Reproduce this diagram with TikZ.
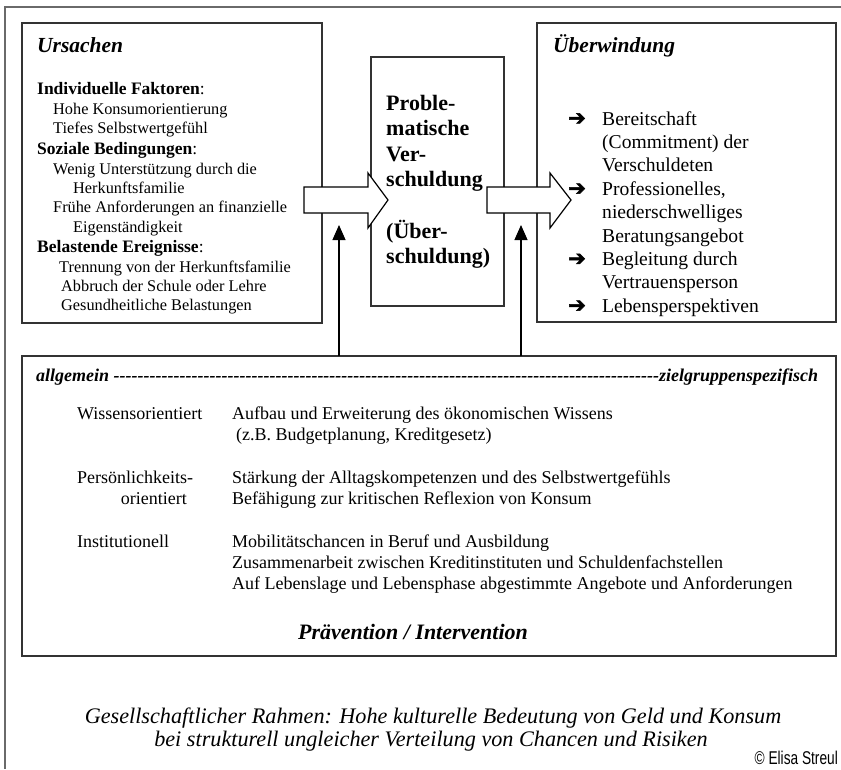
\documentclass[tikz,border=0pt]{standalone}
\usepackage{fontspec}
\setmainfont{Liberation Serif}
\newfontfamily\symfont[FakeBold=2.5]{DejaVu Sans}
\newfontfamily\copyfont{Liberation Sans}
\usetikzlibrary{arrows.meta}
\definecolor{boxgray}{HTML}{333333}
\definecolor{framegray}{HTML}{6A6A6A}
\tikzset{
  box/.style={draw=boxgray, line width=1.3pt, anchor=north west, inner sep=0pt, outer sep=0pt},
  bigarrow/.style={draw=black, fill=white, line width=1.2pt, line join=miter},
  thinarrow/.style={draw=black, line width=1.2pt, -{Triangle[width=13pt,length=15pt]}},
  ut/.style={anchor=base west, inner sep=0pt, font=\fontsize{16.3}{19}\selectfont},
  uh/.style={anchor=base west, inner sep=0pt, font=\fontsize{17.5}{19}\selectfont},
  mt/.style={anchor=base west, inner sep=0pt, font=\fontsize{22}{25}\selectfont\bfseries},
  ot/.style={anchor=base west, inner sep=0pt, font=\fontsize{19.6}{23}\selectfont},
  bul/.style={anchor=base west, inner sep=0pt, font=\fontsize{21}{23}\symfont},
  bt/.style={anchor=base west, inner sep=0pt, font=\fontsize{18}{21}\selectfont},
  ttl/.style={anchor=base west, inner sep=0pt, font=\fontsize{21.5}{24}\selectfont\bfseries\itshape},
  foot/.style={anchor=base, inner sep=0pt, font=\fontsize{22.2}{25}\selectfont\itshape},
}
\begin{document}
\begin{tikzpicture}[x=1pt,y=-1pt]
\useasboundingbox (0,0) rectangle (841,769);
% outer frame
\draw[framegray, line width=1.6pt] (841,7) -- (5,7) -- (5,769);
% boxes
\node[box, minimum width=300pt, minimum height=300pt] (urs) at (22,23) {};
\node[box, minimum width=133pt, minimum height=249pt] (mid) at (371,57) {};
\node[box, minimum width=299pt, minimum height=299pt] (ueb) at (537,23) {};
\node[box, minimum width=814pt, minimum height=300pt] (bot) at (22,356) {};
% big arrows
\draw[bigarrow] (304,187) -- (368,187) -- (368,173) -- (388,200) -- (368,228) -- (368,213) -- (304,213) -- cycle;
\draw[bigarrow] (487,187) -- (550,187) -- (550,173) -- (571,200) -- (550,228) -- (550,213) -- (487,213) -- cycle;
% thin arrows
\coordinate (t1) at (339,225);
\coordinate (t2) at (521,225);
\draw[thinarrow] (bot.north -| t1) -- (t1);
\draw[thinarrow] (bot.north -| t2) -- (t2);
% Ursachen
\node[ttl] (uT) at (37,52) {Ursachen};
\node[uh] (u1) at (37,94) {\textbf{Individuelle Faktoren}:};
\node[ut] (u2) at (53,114) {Hohe Konsumorientierung};
\node[ut] (u3) at (53,133) {Tiefes Selbstwertgefühl};
\node[uh] (u4) at (37,154) {\textbf{Soziale Bedingungen}:};
\node[ut] (u5) at (53,174) {Wenig Unterstützung durch die};
\node[ut] (u6) at (73,193) {Herkunftsfamilie};
\node[ut] (u7) at (53,212) {Frühe Anforderungen an finanzielle};
\node[ut] (u8) at (73,232) {Eigenständigkeit};
\node[uh] (u9) at (37,252) {\textbf{Belastende Ereignisse}:};
\node[ut] (u10) at (59,272) {Trennung von der Herkunftsfamilie};
\node[ut] (u11) at (61,291) {Abbruch der Schule oder Lehre};
\node[ut] (u12) at (61,310) {Gesundheitliche Belastungen};
% middle
\node[mt] (m1) at (386,110) {Proble-};
\node[mt] (m2) at (386,135.5) {matische};
\node[mt] (m3) at (386,161) {Ver-};
\node[mt] (m4) at (386,186.5) {schuldung};
\node[mt] (m5) at (386,238) {(Über-};
\node[mt] (m6) at (386,263.5) {schuldung)};
% Ueberwindung
\node[ttl] (oT) at (553,52) {Überwindung};
\node[bul] (b1) at (568,125) {➔};
\node[ot] (o1) at (602,125) {Bereitschaft};
\node[ot] (o2) at (602,148.4) {(Commitment) der};
\node[ot] (o3) at (602,171.8) {Verschuldeten};
\node[bul] (b2) at (568,195.2) {➔};
\node[ot] (o4) at (602,195.2) {Professionelles,};
\node[ot] (o5) at (602,218.6) {niederschwelliges};
\node[ot] (o6) at (602,242) {Beratungsangebot};
\node[bul] (b3) at (568,265.4) {➔};
\node[ot] (o7) at (602,265.4) {Begleitung durch};
\node[ot] (o8) at (602,288.8) {Vertrauensperson};
\node[bul] (b4) at (568,312.2) {➔};
\node[ot] (o9) at (602,312.2) {Lebensperspektiven};
% bottom box
\node[anchor=base west, inner sep=0pt, font=\fontsize{18}{21}\selectfont\bfseries\itshape] (gen) at (36,381)
  {\hbox to 782pt{allgemein \xleaders\hbox{-}\hfill zielgruppenspezifisch}};
\node[bt] (l1) at (77,419) {Wissensorientiert};
\node[bt] (r1) at (232,419) {Aufbau und Erweiterung des ökonomischen Wissens};
\node[bt] (r2) at (236,440) {(z.B. Budgetplanung, Kreditgesetz)};
\node[bt] (l2) at (77,483) {Persönlichkeits-};
\node[bt, anchor=base east] (l3) at (187,504) {orientiert};
\node[bt] (r3) at (232,483) {Stärkung der Alltagskompetenzen und des Selbstwertgefühls};
\node[bt] (r4) at (232,504) {Befähigung zur kritischen Reflexion von Konsum};
\node[bt] (l4) at (77,547) {Institutionell};
\node[bt] (r5) at (232,547) {Mobilitätschancen in Beruf und Ausbildung};
\node[bt] (r6) at (232,568) {Zusammenarbeit zwischen Kreditinstituten und Schuldenfachstellen};
\node[bt] (r7) at (232,589) {Auf Lebenslage und Lebensphase abgestimmte Angebote und Anforderungen};
\node[anchor=base, inner sep=0pt, font=\fontsize{22}{25}\selectfont\bfseries\itshape] (pi) at (413,639) {Prävention / Intervention};
% footer
\node[foot] (f1) at (433,723) {Gesellschaftlicher Rahmen: Hohe kulturelle Bedeutung von Geld und Konsum};
\node[foot] (f2) at (431,746) {bei strukturell ungleicher Verteilung von Chancen und Risiken};
\node[anchor=base east, inner sep=0pt, font=\fontsize{18.5}{20}\copyfont] (cp) at (838,764) {\scalebox{0.74}[1]{© Elisa Streul}};
\end{tikzpicture}
\end{document}
